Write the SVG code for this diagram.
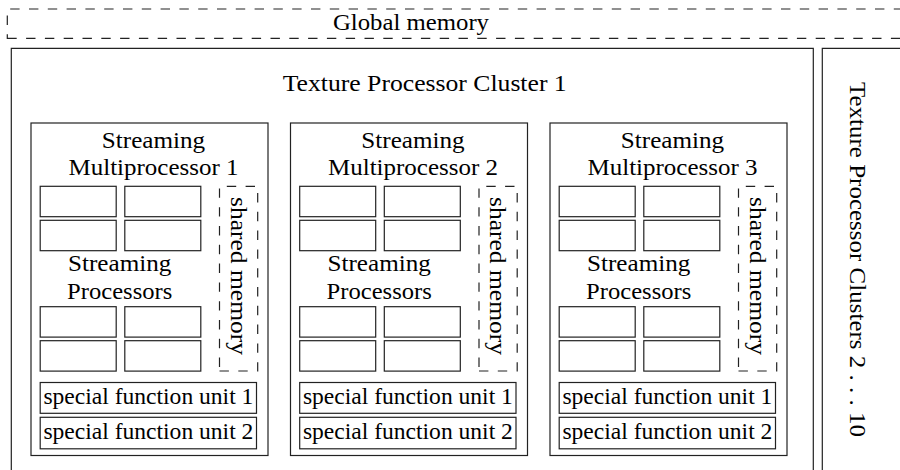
<svg xmlns="http://www.w3.org/2000/svg" width="900" height="470" viewBox="0 0 900 470" font-family="'Liberation Serif', 'Times New Roman', serif">
<style>
  .box { fill: none; stroke: #222; stroke-width: 1.2; }
  .dash { fill: none; stroke: #222; stroke-width: 1.2; stroke-dasharray: 9.4 9.4; }
  .t { font-family: "Liberation Serif", "Times New Roman", serif; font-size: 23px; fill: #000; text-anchor: middle; }
</style>
<rect width="900" height="470" fill="#fff"/>

<g id="global-memory">
  <path class="dash" d="M7.3,38.3 H920 V9 H7.3 Z"/>
  <text class="t" x="411" y="29.5" textLength="156" lengthAdjust="spacingAndGlyphs">Global memory</text>
</g>

<g id="tpc1">
  <path class="box" d="M11.3,480 V48.3 H813.3 V480"/>
  <text class="t" x="424.7" y="90.5" textLength="284" lengthAdjust="spacingAndGlyphs">Texture Processor Cluster 1</text>
</g>

<g id="tpc2-10">
  <path class="box" d="M822.3,480 V48.3 H910"/>
  <text class="t" transform="translate(849.5,259.5) rotate(90)" x="0" y="0" textLength="355" lengthAdjust="spacingAndGlyphs">Texture Processor Clusters 2 . . . 10</text>
</g>

<g id="sm1" transform="translate(31,0)">
  <rect class="box" x="0" y="123" width="237" height="332.5"/>
  <text class="t" x="122.5" y="148" textLength="103.3" lengthAdjust="spacingAndGlyphs">Streaming</text>
  <text class="t" x="122.5" y="175" textLength="170" lengthAdjust="spacingAndGlyphs">Multiprocessor 1</text>
  <rect class="box" x="9.2" y="186.3" width="76" height="30.4"/>
  <rect class="box" x="93.8" y="186.3" width="76" height="30.4"/>
  <rect class="box" x="9.2" y="220.3" width="76" height="30.4"/>
  <rect class="box" x="93.8" y="220.3" width="76" height="30.4"/>
  <text class="t" x="88.7" y="271" textLength="103.3" lengthAdjust="spacingAndGlyphs">Streaming</text>
  <text class="t" x="88.7" y="298.5" textLength="105.2" lengthAdjust="spacingAndGlyphs">Processors</text>
  <rect class="box" x="9.2" y="306.7" width="76" height="30.4"/>
  <rect class="box" x="93.8" y="306.7" width="76" height="30.4"/>
  <rect class="box" x="9.2" y="340.7" width="76" height="30.4"/>
  <rect class="box" x="93.8" y="340.7" width="76" height="30.4"/>
  <path class="dash" d="M188.5,371 H226.7 V186.3 H188.5 Z"/>
  <text class="t" transform="translate(199.5,276) rotate(90)" textLength="158" lengthAdjust="spacingAndGlyphs">shared memory</text>
  <rect class="box" x="9.2" y="382.5" width="216.3" height="30.8"/>
  <text class="t" x="117.4" y="404.3" textLength="210" lengthAdjust="spacingAndGlyphs">special function unit 1</text>
  <rect class="box" x="9.2" y="417.3" width="216.3" height="31.5"/>
  <text class="t" x="117.4" y="438.5" textLength="210" lengthAdjust="spacingAndGlyphs">special function unit 2</text>
</g>

<g id="sm2" transform="translate(290.5,0)">
  <rect class="box" x="0" y="123" width="237" height="332.5"/>
  <text class="t" x="122.5" y="148" textLength="103.3" lengthAdjust="spacingAndGlyphs">Streaming</text>
  <text class="t" x="122.5" y="175" textLength="170" lengthAdjust="spacingAndGlyphs">Multiprocessor 2</text>
  <rect class="box" x="9.2" y="186.3" width="76" height="30.4"/>
  <rect class="box" x="93.8" y="186.3" width="76" height="30.4"/>
  <rect class="box" x="9.2" y="220.3" width="76" height="30.4"/>
  <rect class="box" x="93.8" y="220.3" width="76" height="30.4"/>
  <text class="t" x="88.7" y="271" textLength="103.3" lengthAdjust="spacingAndGlyphs">Streaming</text>
  <text class="t" x="88.7" y="298.5" textLength="105.2" lengthAdjust="spacingAndGlyphs">Processors</text>
  <rect class="box" x="9.2" y="306.7" width="76" height="30.4"/>
  <rect class="box" x="93.8" y="306.7" width="76" height="30.4"/>
  <rect class="box" x="9.2" y="340.7" width="76" height="30.4"/>
  <rect class="box" x="93.8" y="340.7" width="76" height="30.4"/>
  <path class="dash" d="M188.5,371 H226.7 V186.3 H188.5 Z"/>
  <text class="t" transform="translate(199.5,276) rotate(90)" textLength="158" lengthAdjust="spacingAndGlyphs">shared memory</text>
  <rect class="box" x="9.2" y="382.5" width="216.3" height="30.8"/>
  <text class="t" x="117.4" y="404.3" textLength="210" lengthAdjust="spacingAndGlyphs">special function unit 1</text>
  <rect class="box" x="9.2" y="417.3" width="216.3" height="31.5"/>
  <text class="t" x="117.4" y="438.5" textLength="210" lengthAdjust="spacingAndGlyphs">special function unit 2</text>
</g>

<g id="sm3" transform="translate(550,0)">
  <rect class="box" x="0" y="123" width="237" height="332.5"/>
  <text class="t" x="122.5" y="148" textLength="103.3" lengthAdjust="spacingAndGlyphs">Streaming</text>
  <text class="t" x="122.5" y="175" textLength="170" lengthAdjust="spacingAndGlyphs">Multiprocessor 3</text>
  <rect class="box" x="9.2" y="186.3" width="76" height="30.4"/>
  <rect class="box" x="93.8" y="186.3" width="76" height="30.4"/>
  <rect class="box" x="9.2" y="220.3" width="76" height="30.4"/>
  <rect class="box" x="93.8" y="220.3" width="76" height="30.4"/>
  <text class="t" x="88.7" y="271" textLength="103.3" lengthAdjust="spacingAndGlyphs">Streaming</text>
  <text class="t" x="88.7" y="298.5" textLength="105.2" lengthAdjust="spacingAndGlyphs">Processors</text>
  <rect class="box" x="9.2" y="306.7" width="76" height="30.4"/>
  <rect class="box" x="93.8" y="306.7" width="76" height="30.4"/>
  <rect class="box" x="9.2" y="340.7" width="76" height="30.4"/>
  <rect class="box" x="93.8" y="340.7" width="76" height="30.4"/>
  <path class="dash" d="M188.5,371 H226.7 V186.3 H188.5 Z"/>
  <text class="t" transform="translate(199.5,276) rotate(90)" textLength="158" lengthAdjust="spacingAndGlyphs">shared memory</text>
  <rect class="box" x="9.2" y="382.5" width="216.3" height="30.8"/>
  <text class="t" x="117.4" y="404.3" textLength="210" lengthAdjust="spacingAndGlyphs">special function unit 1</text>
  <rect class="box" x="9.2" y="417.3" width="216.3" height="31.5"/>
  <text class="t" x="117.4" y="438.5" textLength="210" lengthAdjust="spacingAndGlyphs">special function unit 2</text>
</g>

<g id="connectors"></g>
</svg>
